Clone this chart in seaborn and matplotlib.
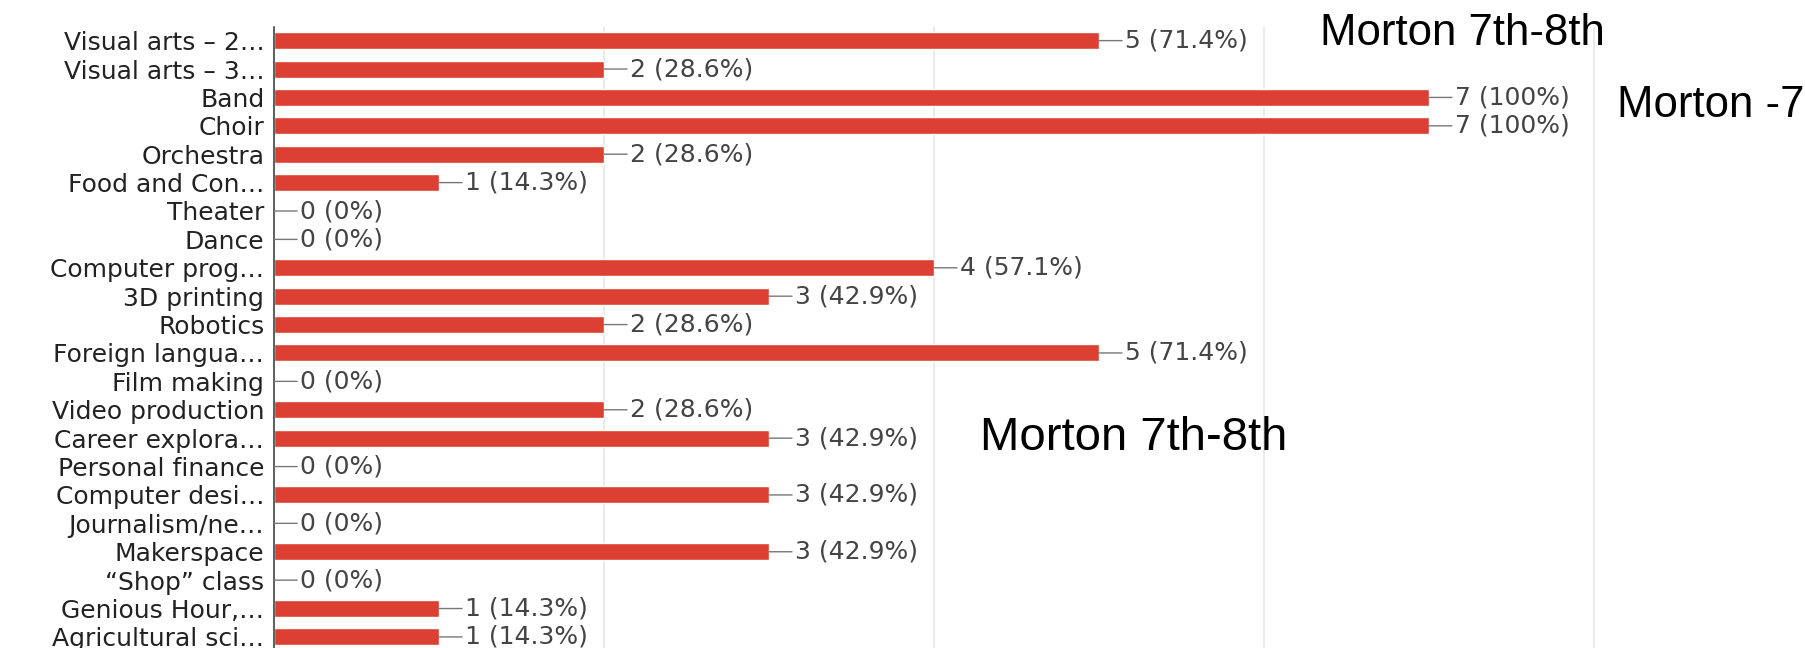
import matplotlib
matplotlib.use("Agg")
import matplotlib.pyplot as plt
import seaborn as sns

# survey answers (7 respondents)
labels = [
    "Visual arts \u2013 2\u2026", "Visual arts \u2013 3\u2026", "Band", "Choir", "Orchestra",
    "Food and Con\u2026", "Theater", "Dance", "Computer prog\u2026", "3D printing",
    "Robotics", "Foreign langua\u2026", "Film making", "Video production",
    "Career explora\u2026", "Personal finance", "Computer desi\u2026", "Journalism/ne\u2026",
    "Makerspace", "\u201cShop\u201d class", "Genious Hour,\u2026", "Agricultural sci\u2026",
]
counts = [5, 2, 7, 7, 2, 1, 0, 0, 4, 3, 2, 5, 0, 2, 3, 0, 3, 0, 3, 0, 1, 1]
percents = ["71.4", "28.6", "100", "100", "28.6", "14.3", "0", "0", "57.1", "42.9",
            "28.6", "71.4", "0", "28.6", "42.9", "0", "42.9", "0", "42.9", "0",
            "14.3", "14.3"]
grid_ticks = [2, 4, 6, 8]

bar_color = "#dc4033"

sns.set_style("white")
plt.rcParams["font.family"] = ["DejaVu Sans"]

fig = plt.figure(figsize=(18.05, 6.48), dpi=100)
ax = fig.add_axes([274 / 1805, 0, 1 - 274 / 1805, 621 / 648])

sns.barplot(x=counts, y=labels, orient="h", color=bar_color, saturation=1,
            width=0.6, ax=ax)

ax.set_xlim(0, 9.28)
ax.set_ylim(21.39, -0.48)
ax.set_xticks(grid_ticks)
ax.set_xticklabels([])
ax.xaxis.grid(True, color="#e6e6e6", linewidth=1.2)
ax.yaxis.grid(False)
ax.set_axisbelow(True)
ax.set_xlabel("")
ax.set_ylabel("")
ax.tick_params(axis="both", length=0)
ax.tick_params(axis="y", labelsize=18, labelcolor="#222222", pad=7)

for side in ["top", "right", "bottom"]:
    ax.spines[side].set_visible(False)
ax.spines["left"].set_color("#333333")
ax.spines["left"].set_linewidth(1.1)

# value labels with a short leader line
for i, (c, p) in enumerate(zip(counts, percents)):
    ax.annotate(f"{c} ({p}%)", xy=(c, i), xytext=(19, 0),
                textcoords="offset points", ha="left", va="center",
                fontsize=18, color="#444444",
                arrowprops=dict(arrowstyle="-", color="#777777", lw=1,
                                shrinkA=0, shrinkB=0, relpos=(0, 0.5)))

# overlaid slide titles
fig.text(1320 / 1805, 1 - 45 / 648, "Morton 7th-8th", fontsize=31.5,
         family="Liberation Sans", color="black", va="baseline")
fig.text(1617 / 1805, 1 - 117 / 648, "Morton -7th-8th", fontsize=31.5,
         family="Liberation Sans", color="black", va="baseline")
fig.text(980 / 1805, 1 - 450 / 648, "Morton 7th-8th", fontsize=34,
         family="Liberation Sans", color="black", va="baseline")

fig.savefig("out.png", dpi=100)
